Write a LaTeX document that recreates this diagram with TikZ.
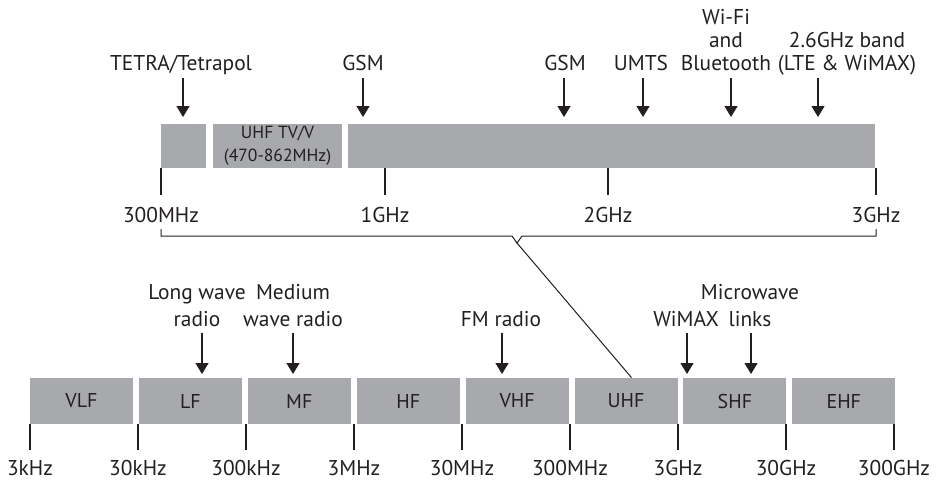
\documentclass[tikz,border=0pt]{standalone}
\usepackage{fontspec}
\setmainfont{PT Sans}
\usetikzlibrary{arrows.meta, calc}
\definecolor{bandgray}{HTML}{A7A9AC}
\definecolor{inkdark}{HTML}{231F20}

\begin{document}
\begin{tikzpicture}[
  x=0.5pt, y=-0.5pt,
  band/.style={rectangle, fill=bandgray, text=inkdark, inner sep=0pt,
               minimum width=51.5pt, minimum height=23pt,
               font=\fontsize{10}{11}\selectfont},
  subband/.style={band, minimum height=22pt},
  freq/.style={anchor=base, inner sep=0pt, text=inkdark,
               font=\fontsize{10.7}{13}\selectfont},
  service/.style={anchor=base, inner sep=0pt, align=center, text=inkdark,
                  font=\fontsize{10.7}{13.5}\selectfont},
  tick/.style={draw=inkdark, line width=0.6pt},
  arr/.style={-{Triangle[width=6.5pt,length=5.5pt]}, draw=inkdark,
              line width=0.6pt}
]
\useasboundingbox (0,0) rectangle (941,479);

% Main spectrum
\foreach \b [count=\i from 0] in {VLF,LF,MF,HF,VHF,UHF,SHF,EHF}
  \node[band] (\b) at ({81.5+108.9*\i},401) {\b};

\foreach \f [count=\i from 0] in {3kHz,30kHz,300kHz,3MHz,30MHz,300MHz,3GHz,30GHz,300GHz} {
  \coordinate (f\i) at ({30+108*\i},424);
  \draw[tick] (f\i) -- ++(0,26);
  \node[freq] (lf\i) at ($(f\i)+(0,51)$) {\f};
}

% UHF close-up
\node[subband, minimum width=22.5pt] (tetraband) at (183.5,146) {};
\node[subband, minimum width=64.5pt, align=center,
      font=\fontsize{8.8}{11.5}\selectfont] (tvband) at (277.5,146) {UHF TV/V\\(470-862MHz)};
\node[subband, minimum width=263.5pt] (mobband) at (611.5,146) {};

\foreach \f/\x [count=\i] in {300MHz/161, 1GHz/385, 2GHz/608, 3GHz/876} {
  \coordinate (g\i) at (\x,168);
  \draw[tick] (g\i) -- ++(0,27);
  \node[freq] (lg\i) at ($(g\i)+(0,54)$) {\f};
}

% Bracket down to UHF
\coordinate (brk) at (517,243);
\draw[inkdark, line width=0.5pt] ($(g1)+(0,61)$) -- ($(g1)+(0,68)$)
  -- ($(brk)+(-5,-7)$) -- (brk) -- ($(brk)+(5,-7)$)
  -- ($(g4)+(0,68)$) -- ($(g4)+(0,61)$);
\draw[inkdark, line width=0.5pt] (brk) -- ([xshift=2.75pt]UHF.north);

% Services above the close-up
\node[service] (tetra) at (181,70.5) {TETRA/Tetrapol};
\node[service] (gsmlow) at (363,70.5) {GSM};
\node[service] (gsmhigh) at (565,70.5) {GSM};
\node[service] (umts) at (641,70.5) {UMTS};
\node[service, font=\fontsize{10.7}{11.5}\selectfont] (wifi) at (726,70.5) {Wi-Fi\\and\\Bluetooth};
\node[service, font=\fontsize{10.7}{11.5}\selectfont] (lte) at (847,70.5) {2.6GHz band\\(LTE \& WiMAX)};

\foreach \n/\x in {tetra/183, gsmlow/363, gsmhigh/564, umts/643, wifi/731, lte/818} {
  \coordinate (at\n) at (\x,124);
  \draw[arr, shorten >=3.5pt] (\n.base -| at\n) ++(0,7.5) -- (at\n);
}

% Services above the main spectrum
\node[service] (longwave) at (197,326) {Long wave\\radio};
\node[service] (mediumwave) at (293,326) {Medium\\wave radio};
\node[service] (fm) at (501,326) {FM radio};
\node[service] (wimax) at (686,326) {WiMAX};
\node[service] (microwave) at (750,326) {Microwave\\links};

\foreach \n/\x in {longwave/202, mediumwave/293, fm/502, wimax/687, microwave/751} {
  \coordinate (at\n) at (\x,378);
  \draw[arr, shorten >=2pt] (\n.base -| at\n) ++(0,7) -- (at\n);
}

\end{tikzpicture}
\end{document}
